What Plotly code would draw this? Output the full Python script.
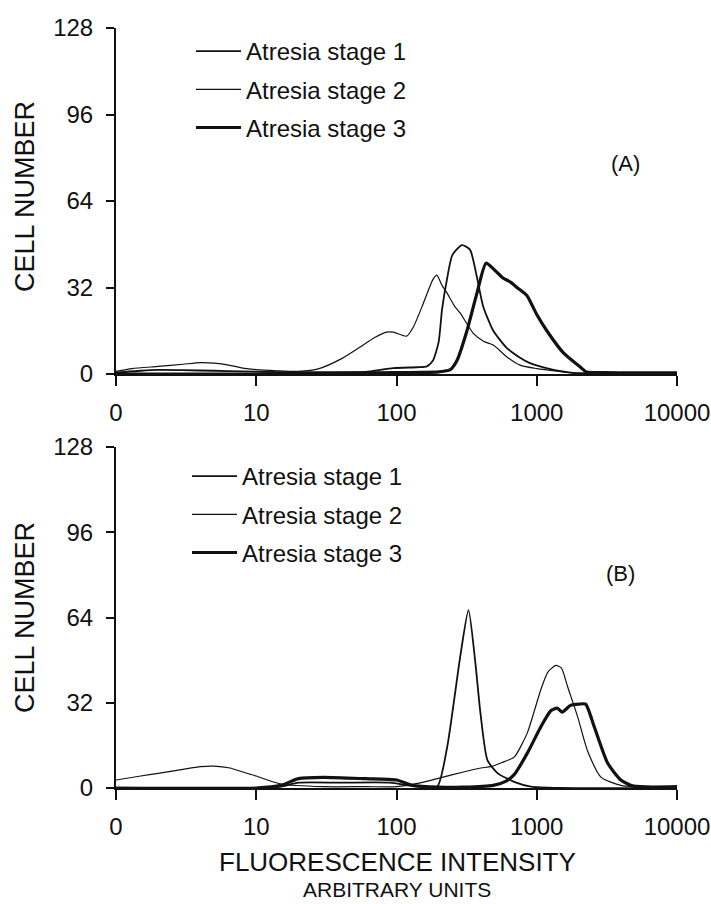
import plotly.graph_objects as go

# ---------------- data ----------------
stage_names = ["Atresia stage 1", "Atresia stage 2", "Atresia stage 3"]
x_tickvals = [1, 10, 100, 1000, 10000]
x_ticktext_a = ["0", "10", "100", "1000", "10000"]
x_ticktext_b = ["0", "10", "100", "1000", "10000"]
y_tickvals = [0, 32, 64, 96, 128]

# Panel A
a1_x = [1, 1.5, 2, 3, 5, 8, 12, 20, 35, 60, 95, 140, 165, 182, 200, 211, 229, 250, 293, 334, 374, 415, 490, 613, 760, 895, 1100, 1320, 1820, 2500, 4000, 10000]
a1_y = [0.5, 1.2, 1.5, 1.4, 1.2, 1.0, 0.8, 0.6, 0.6, 0.8, 2.2, 2.5, 2.8, 5, 12, 23.7, 35, 44, 47.7, 46, 36, 25, 16, 9.6, 6, 4, 2.5, 1.5, 0.4, 0.2, 0.1, 0.1]

a2_x = [1, 1.3, 2, 3, 4, 5, 6.5, 8, 10, 14, 20, 28, 40, 55, 70, 85, 95, 118, 132, 155, 182, 194, 210, 229, 260, 284, 353, 420, 490, 613, 760, 1000, 1180, 1800, 3000, 10000]
a2_y = [1.0, 2.0, 2.8, 3.6, 4.2, 4.0, 3.2, 2.2, 1.6, 1.2, 1.0, 2.0, 5.5, 10, 13.5, 15.5, 15.5, 14, 17.4, 26, 35, 36.6, 33, 30, 25, 22.6, 15, 12, 10.7, 6.3, 3.3, 2, 1.5, 0.4, 0.2, 0.1]

a3_x = [1, 10, 20, 50, 100, 150, 200, 240, 270, 318, 375, 435, 500, 575, 650, 723, 850, 1000, 1180, 1550, 2040, 2270, 3000, 5000, 10000]
a3_y = [0, 0, 0.3, 0.4, 0.5, 0.6, 0.8, 1.5, 5, 16, 30, 41, 38.5, 35.5, 34, 32, 29, 22, 16, 7.8, 2.6, 0.7, 0.5, 0.4, 0.4]

# Panel B
b1_x = [1, 10, 15, 20, 40, 90, 120, 150, 195, 230, 256, 285, 326, 365, 397, 445, 525, 690, 910, 1500, 10000]
b1_y = [0, 0, 0.5, 2, 2, 2, 1, 0.5, 0.5, 15.5, 32, 49.5, 66.8, 47, 28, 10.5, 5.6, 2.3, 0.5, 0, 0]

b2_x = [1, 1.5, 2, 3, 4, 5, 6.5, 8, 10, 12, 15, 30, 60, 100, 148, 205, 300, 400, 470, 560, 690, 855, 1070, 1200, 1366, 1500, 1660, 1960, 2300, 2880, 3980, 5000, 10000]
b2_y = [3, 4.5, 5.5, 7, 8, 8.2, 7.5, 6, 4.5, 3, 1.5, 0.5, 0.5, 0.5, 1.9, 3.8, 6, 7.5, 8, 9.5, 11.6, 20.6, 37, 43.5, 46, 45, 38, 26.6, 14, 4, 1, 0.5, 0.5]

b3_x = [1, 10, 15, 20, 30, 60, 100, 130, 200, 300, 490, 600, 690, 855, 1070, 1260, 1400, 1520, 1740, 2000, 2230, 2570, 3200, 3980, 4900, 10000]
b3_y = [0, 0, 1, 3.5, 4, 3.5, 3, 1, 0.3, 0.3, 1, 2.5, 5, 13, 23, 29, 30, 28.5, 31, 31.5, 31.5, 23, 9.4, 3, 0.7, 0.5]

panel_a = [(a1_x, a1_y), (a2_x, a2_y), (a3_x, a3_y)]
panel_b = [(b1_x, b1_y), (b2_x, b2_y), (b3_x, b3_y)]
widths = [1.8, 1.2, 3.2]

FONT = "Liberation Sans, Arial, Helvetica, sans-serif"
INK = "#111111"
W, H = 711, 904

fig = go.Figure()
for i, (xs, ys) in enumerate(panel_a):
    fig.add_trace(go.Scatter(x=xs, y=ys, mode="lines", name=stage_names[i],
                             line=dict(color=INK, width=widths[i], shape="spline", smoothing=0.6),
                             xaxis="x", yaxis="y", legend="legend",
                             legendgroup="a%d" % i))
for i, (xs, ys) in enumerate(panel_b):
    fig.add_trace(go.Scatter(x=xs, y=ys, mode="lines", name=stage_names[i],
                             line=dict(color=INK, width=widths[i], shape="spline", smoothing=0.6),
                             xaxis="x2", yaxis="y2", legend="legend2",
                             legendgroup="b%d" % i))

xdom = [116 / W, 677 / W]
ya_dom = [1 - 374 / H, 1 - 28 / H]
yb_dom = [1 - 788 / H, 1 - 447 / H]

tickfont = dict(family=FONT, size=24, color=INK)
base = dict(showline=True, linecolor=INK, linewidth=2, ticks="outside",
            tickwidth=2, tickcolor=INK, showgrid=False, zeroline=False,
            tickfont=tickfont, automargin=False)


def note(text, x, y, size, angle=0):
    return dict(text=text, x=x / W, y=1 - y / H, xref="paper", yref="paper",
                xanchor="center", yanchor="middle", textangle=angle,
                showarrow=False, font=dict(family=FONT, size=size, color=INK))


fig.update_layout(
    width=W, height=H,
    margin=dict(l=0, r=0, t=0, b=0, autoexpand=False),
    paper_bgcolor="white", plot_bgcolor="white",
    showlegend=True,
    xaxis=dict(type="log", range=[0, 4], domain=xdom, anchor="y",
               tickvals=x_tickvals, ticktext=x_ticktext_a, ticklen=10,
               ticklabelstandoff=6, **base),
    yaxis=dict(range=[0, 128], domain=ya_dom, anchor="x",
               tickvals=y_tickvals, ticklen=8, ticklabelstandoff=8, **base),
    xaxis2=dict(type="log", range=[0, 4], domain=xdom, anchor="y2",
                tickvals=x_tickvals, ticktext=x_ticktext_b, ticklen=10,
                ticklabelstandoff=6, **base),
    yaxis2=dict(range=[0, 128], domain=yb_dom, anchor="x2",
                tickvals=y_tickvals, ticklen=8, ticklabelstandoff=8, **base),
    legend=dict(x=191 / W, y=1 - 29 / H, xanchor="left", yanchor="top",
                font=dict(family=FONT, size=24, color=INK),
                bgcolor="rgba(0,0,0,0)", itemwidth=45,
                traceorder="grouped", tracegroupgap=4),
    legend2=dict(x=187 / W, y=1 - 454 / H, xanchor="left", yanchor="top",
                 font=dict(family=FONT, size=24, color=INK),
                 bgcolor="rgba(0,0,0,0)", itemwidth=45,
                 traceorder="grouped", tracegroupgap=4),
    annotations=[
        note("CELL NUMBER", 25, 197, 27, -90),
        note("CELL NUMBER", 25, 618, 27, -90),
        note("(A)", 625, 163, 22),
        note("(B)", 620, 573, 22),
        note("FLUORESCENCE INTENSITY", 397, 862, 26),
        note("ARBITRARY UNITS", 397, 889, 21),
    ],
)

fig.write_html("out.html", config={"displayModeBar": False},
               post_script="document.body.style.margin='0';")
